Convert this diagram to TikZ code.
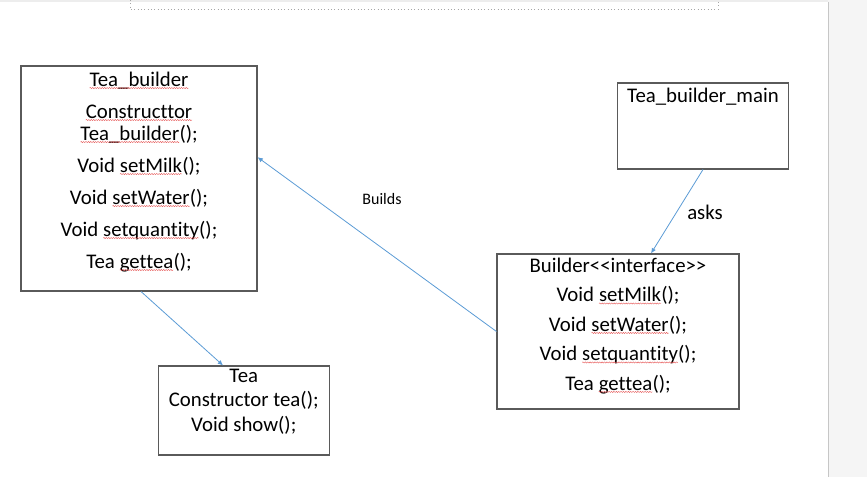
\documentclass[tikz,border=0pt]{standalone}
\usepackage{fontspec}
\setmainfont{Carlito}[Ligatures=NoCommon]
\usetikzlibrary{positioning,arrows.meta,decorations.pathmorphing}
\definecolor{linkblue}{RGB}{91,155,213}
\definecolor{boxgray}{RGB}{90,90,90}
\definecolor{spellred}{RGB}{230,90,90}
\newcommand{\spellerr}[1]{\tikz[baseline=(w.base)]{\node[inner sep=0pt,outer sep=0pt] (w) {#1};
  \draw[spellred,line width=0.3pt,decorate,decoration={snake,amplitude=0.45pt,segment length=1.8pt}]
  ([yshift=-1.4pt]w.base west) -- ([yshift=-1.4pt]w.base east);}}

\begin{document}
\begin{tikzpicture}[
                x=0.75pt, y=-0.75pt,
                umlbox/.style={rectangle, draw=boxgray, line width=0.8pt, inner sep=0pt},
                boxtext/.style={inner sep=0pt, align=center, font=\fontsize{15.6}{16.5}\selectfont},
                link/.style={draw, linkblue, line width=0.6pt, -{Latex[length=4pt,width=3.5pt]}}
            ]
            \useasboundingbox (0,0) rectangle (867,477);

            % Page
            \fill[gray!14] (0,0) rectangle (828,2.5);
            \fill[gray!8] (828,0) rectangle (867,477);
            \draw[gray!45, line width=0.6pt] (828,2) -- (828,477);
            \draw[gray!70, dotted, line width=0.5pt] (130,0) -- (130,9) -- (718,9) -- (718,0);

            % Nodes
            \node [umlbox, minimum width=177pt, minimum height=168.75pt] (teabuilder) at (139,178.5) {};
            \node [boxtext, below=4.5pt of teabuilder.north] (teabuildertext) {%
                \spellerr{Tea\_builder}\\[7.5pt]
                \spellerr{Constructtor}\\
                \spellerr{Tea\_builder}();\\[7.5pt]
                Void \spellerr{setMilk}();\\[7.5pt]
                Void \spellerr{setWater}();\\[7.5pt]
                Void \spellerr{setquantity}();\\[7.5pt]
                Tea \spellerr{gettea}();};

            \node [umlbox, minimum width=128.25pt, minimum height=66.75pt] (tea) at (243.75,410.5) {};
            \node [boxtext, font=\fontsize{15.6}{18.4}\selectfont, below=2.5pt of tea.north] (teatext) {%
                Tea\\
                Constructor tea();\\
                Void show();};

            \node [umlbox, minimum width=128.25pt, minimum height=64.5pt] (main) at (703,126) {};
            \node [boxtext, below=4pt of main.north] (maintext) {Tea\_builder\_main};

            \node [umlbox, minimum width=181.5pt, minimum height=116.25pt] (builder) at (618,331.5) {};
            \node [boxtext, font=\fontsize{15.6}{22.1}\selectfont, below=3pt of builder.north] (buildertext) {%
                Builder<\kern0pt<interface>\kern0pt>\\
                Void \spellerr{setMilk}();\\
                Void \spellerr{setWater}();\\
                Void \spellerr{setquantity}();\\
                Tea \spellerr{gettea}();};

            \node [font=\fontsize{12}{14}\selectfont] (builds) at (382,199) {Builds};
            \node [font=\fontsize{15.6}{18}\selectfont] (asks) at (705,212) {asks};

            % Arrows
            \draw[link] ([xshift=1.5pt]teabuilder.south) -- ([xshift=-15.5pt]tea.north);
            \draw[link] (builder.west) -- ([yshift=16pt]teabuilder.east);
            \draw[link] (main.south) -- ([xshift=24.75pt]builder.north);

            \end{tikzpicture}
\end{document}
